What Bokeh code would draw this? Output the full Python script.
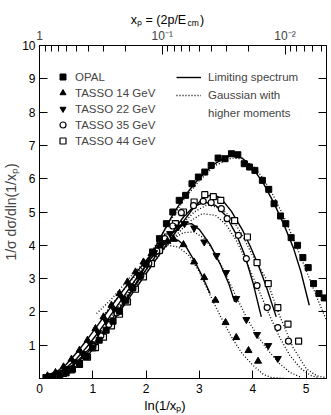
import numpy as np
from bokeh.plotting import figure
from bokeh.models import (LinearAxis, FixedTicker, Range1d, Label, Legend, LegendItem,
                          CustomLabelingPolicy)
from bokeh.embed import file_html
from bokeh.resources import INLINE

# ---------------- data ----------------
# OPAL (91 GeV), filled squares
opal_x = [0.12, 0.25, 0.38, 0.50, 0.62, 0.75, 0.88, 1.00, 1.12, 1.25, 1.38, 1.50, 1.62, 1.75, 1.88,
          2.00, 2.12, 2.25, 2.38, 2.50, 2.62, 2.74, 2.86, 2.98, 3.10, 3.22, 3.35, 3.48, 3.60, 3.72,
          3.84, 3.94, 4.04, 4.18, 4.30, 4.40, 4.52, 4.62, 4.72, 4.84, 4.94, 5.04, 5.14, 5.24, 5.34]
opal_y = [0.03, 0.06, 0.10, 0.17, 0.28, 0.45, 0.66, 0.92, 1.15, 1.45, 1.72, 2.02, 2.35, 2.72, 3.10,
          3.45, 3.80, 4.20, 4.65, 5.00, 5.35, 5.50, 5.85, 6.05, 6.20, 6.40, 6.62, 6.60, 6.75, 6.72,
          6.45, 6.35, 6.25, 5.95, 5.68, 5.25, 4.88, 4.65, 4.23, 4.00, 3.63, 3.33, 2.85, 2.55, 2.42]
# TASSO 14 GeV, filled triangles
t14_x = [0.15, 0.30, 0.45, 0.60, 0.75, 0.90, 1.05, 1.20, 1.35, 1.50, 1.65, 1.80, 1.95, 2.10, 2.25,
         2.40, 2.52, 2.70, 2.90, 3.09, 3.30, 3.49, 3.69, 3.92, 4.10]
t14_y = [0.08, 0.18, 0.35, 0.58, 0.85, 1.15, 1.50, 1.85, 2.20, 2.55, 2.90, 3.20, 3.50, 3.75, 3.98,
         4.12, 4.18, 4.02, 3.50, 3.03, 2.35, 1.68, 1.23, 0.84, 0.52]
# TASSO 22 GeV, filled inverted triangles
t22_x = [0.20, 0.35, 0.50, 0.65, 0.80, 0.95, 1.10, 1.25, 1.40, 1.55, 1.70, 1.85, 2.00, 2.15, 2.30,
         2.45, 2.60, 2.72, 2.90, 3.09, 3.32, 3.50, 3.69, 3.88, 4.08, 4.29, 4.47]
t22_y = [0.08, 0.16, 0.30, 0.50, 0.75, 1.05, 1.38, 1.72, 2.07, 2.42, 2.78, 3.12, 3.45, 3.78, 4.08,
         4.35, 4.55, 4.65, 4.52, 4.10, 3.69, 3.18, 2.40, 1.77, 1.32, 0.99, 0.60]
# TASSO 35 GeV, open circles
t35_x = [0.25, 0.40, 0.55, 0.70, 0.85, 1.00, 1.15, 1.30, 1.45, 1.60, 1.75, 1.90, 2.05, 2.20, 2.35,
         2.50, 2.66, 2.89, 3.07, 3.22, 3.41, 3.52, 3.73, 3.88, 4.08, 4.27, 4.47, 4.67]
t35_y = [0.07, 0.14, 0.26, 0.43, 0.67, 0.97, 1.28, 1.62, 1.97, 2.35, 2.72, 3.08, 3.45, 3.83, 4.20,
         4.58, 4.98, 5.19, 5.32, 5.28, 5.10, 4.80, 4.30, 3.60, 2.79, 2.13, 1.53, 1.12]
# TASSO 44 GeV, open squares
t44_x = [0.30, 0.45, 0.60, 0.75, 0.90, 1.05, 1.20, 1.35, 1.50, 1.65, 1.80, 1.95, 2.10, 2.25, 2.40,
         2.55, 2.70, 2.90, 3.10, 3.26, 3.40, 3.66, 3.90, 4.08, 4.29, 4.47, 4.66, 4.86]
t44_y = [0.08, 0.15, 0.26, 0.42, 0.64, 0.93, 1.24, 1.58, 1.93, 2.30, 2.68, 3.05, 3.45, 3.85, 4.25,
         4.65, 5.00, 5.30, 5.52, 5.46, 5.35, 4.74, 4.25, 3.48, 2.85, 2.13, 1.63, 1.12]

# Limiting spectrum (solid curves)
s14_x = [0.10, 0.30, 0.50, 0.70, 0.90, 1.10, 1.30, 1.50, 1.70, 1.90, 2.10, 2.30, 2.45, 2.60, 2.75,
         2.90, 3.05, 3.20]
s14_y = [0.05, 0.18, 0.42, 0.78, 1.18, 1.62, 2.06, 2.50, 2.93, 3.35, 3.74, 4.05, 4.18, 4.15, 3.95,
         3.55, 3.08, 2.55]
s22_x = [0.10, 0.30, 0.50, 0.70, 0.90, 1.10, 1.30, 1.50, 1.70, 1.90, 2.10, 2.30, 2.50, 2.70, 2.85,
         3.00, 3.20, 3.40, 3.55, 3.66]
s22_y = [0.04, 0.14, 0.32, 0.60, 0.97, 1.38, 1.82, 2.28, 2.74, 3.19, 3.62, 4.02, 4.38, 4.62, 4.65,
         4.47, 4.02, 3.40, 2.85, 2.30]
s35_x = [0.10, 0.30, 0.50, 0.70, 0.90, 1.10, 1.30, 1.50, 1.70, 1.90, 2.10, 2.30, 2.50, 2.70, 2.90,
         3.10, 3.30, 3.50, 3.70, 3.85, 4.00, 4.16]
s35_y = [0.03, 0.11, 0.26, 0.50, 0.83, 1.22, 1.65, 2.10, 2.57, 3.04, 3.50, 3.95, 4.40, 4.85, 5.17,
         5.30, 5.20, 4.88, 4.30, 3.70, 2.90, 1.85]
s44_x = [0.10, 0.30, 0.50, 0.70, 0.90, 1.10, 1.30, 1.50, 1.70, 1.90, 2.10, 2.30, 2.50, 2.70, 2.90,
         3.10, 3.25, 3.40, 3.60, 3.80, 3.95, 4.10, 4.25, 4.44]
s44_y = [0.03, 0.10, 0.24, 0.46, 0.77, 1.15, 1.56, 2.00, 2.46, 2.92, 3.38, 3.83, 4.28, 4.72, 5.15,
         5.45, 5.52, 5.42, 5.02, 4.48, 3.98, 3.42, 2.78, 1.85]
sop_x = [0.10, 0.30, 0.50, 0.70, 0.90, 1.10, 1.30, 1.50, 1.70, 1.90, 2.10, 2.30, 2.50, 2.70, 2.90,
         3.10, 3.30, 3.50, 3.65, 3.80, 4.00, 4.20, 4.40, 4.60, 4.76, 4.90, 5.06]
sop_y = [0.02, 0.07, 0.17, 0.37, 0.68, 1.07, 1.52, 2.00, 2.55, 3.12, 3.72, 4.33, 4.92, 5.42, 5.84,
         6.18, 6.46, 6.65, 6.70, 6.62, 6.32, 5.86, 5.26, 4.56, 3.93, 3.22, 2.20]

# Gaussian with higher moments (dotted curves)
d14_x = [1.07, 1.36, 1.73, 2.00, 2.20, 2.42, 2.60, 2.80, 3.00, 3.20, 3.40, 3.60, 3.80, 4.00, 4.20,
         4.35, 4.60]
d14_y = [1.95, 2.40, 3.10, 3.55, 3.85, 4.00, 3.95, 3.70, 3.20, 2.50, 1.85, 1.25, 0.75, 0.40, 0.12,
         0.03, 0.00]
d22_x = [1.20, 1.50, 1.80, 2.10, 2.40, 2.70, 2.90, 3.10, 3.30, 3.50, 3.70, 3.90, 4.10, 4.30, 4.50,
         4.70, 4.90]
d22_y = [1.90, 2.50, 3.10, 3.65, 4.10, 4.38, 4.40, 4.20, 3.75, 3.10, 2.42, 1.78, 1.25, 0.82, 0.45,
         0.18, 0.04]
d35_x = [1.30, 1.60, 1.90, 2.20, 2.50, 2.80, 3.05, 3.30, 3.50, 3.70, 3.90, 4.10, 4.30, 4.50, 4.70,
         4.90, 5.10, 5.25]
d35_y = [1.75, 2.35, 2.95, 3.60, 4.20, 4.70, 4.95, 4.90, 4.62, 4.12, 3.45, 2.70, 1.95, 1.25, 0.68,
         0.30, 0.08, 0.02]
d44_x = [1.40, 1.70, 2.00, 2.30, 2.60, 2.90, 3.15, 3.40, 3.60, 3.80, 4.00, 4.25, 4.50, 4.75, 5.00,
         5.20, 5.38]
d44_y = [2.00, 2.60, 3.25, 3.90, 4.50, 5.00, 5.22, 5.12, 4.82, 4.32, 3.68, 3.00, 1.90, 0.95, 0.30,
         0.08, 0.02]
dop_x = [1.50, 1.80, 2.10, 2.40, 2.70, 3.00, 3.30, 3.60, 3.80, 4.00, 4.20, 4.40, 4.60, 4.80, 5.00,
         5.20, 5.38]
dop_y = [2.10, 2.95, 3.80, 4.60, 5.35, 5.95, 6.40, 6.62, 6.60, 6.40, 6.00, 5.45, 4.80, 4.05, 3.25,
         2.45, 1.75]

# axis ticks
x_ticks = [0, 1, 2, 3, 4, 5]
y_ticks = [1, 2, 3, 4, 5, 6, 7, 8, 9, 10]
xp_major = [1.0, 0.1, 0.01]
xp_major_labels = ["1", "10\u207b\u00b9", "10\u207b\u00b2"]
xp_minor = [0.9, 0.8, 0.7, 0.6, 0.5, 0.4, 0.3, 0.2,
            0.09, 0.08, 0.07, 0.06, 0.05, 0.04, 0.03, 0.02,
            0.009, 0.008, 0.007, 0.006, 0.005]

# ---------------- figure ----------------
FONT = "Liberation Sans"

p = figure(width=331, height=415, x_range=Range1d(0, 5.383), y_range=Range1d(0, 10),
           output_backend="svg", toolbar_location=None,
           min_border_left=38, min_border_right=5, min_border_top=45, min_border_bottom=37)
p.grid.visible = False
p.background_fill_color = "white"
p.border_fill_color = "white"
p.outline_line_color = "black"
p.outline_line_width = 1

xa = p.xaxis[0]
ya = p.yaxis[0]
xa.ticker = FixedTicker(ticks=x_ticks)
ya.ticker = FixedTicker(ticks=y_ticks)
for ax in (xa, ya):
    ax.major_tick_in = 8
    ax.major_tick_out = 0
    ax.minor_tick_in = 0
    ax.minor_tick_out = 0
    ax.axis_line_color = "black"
    ax.major_tick_line_color = "black"
    ax.major_label_text_font = FONT
    ax.major_label_text_font_size = "12px"
    ax.major_label_text_color = "black"
xa.major_label_standoff = 5
ya.major_label_standoff = 4
ya.axis_label = "1/\u03c3 d\u03c3/dln(1/x\u209a)"
ya.axis_label_text_font = FONT
ya.axis_label_text_font_size = "14px"
ya.axis_label_text_font_style = "normal"
ya.axis_label_standoff = 0

top_ticks = [float(v) for v in np.log(1.0 / np.array(xp_major))]
top_minor = [float(v) for v in np.log(1.0 / np.array(xp_minor))]
top = LinearAxis(ticker=FixedTicker(ticks=top_ticks, minor_ticks=top_minor),
                 major_label_overrides={t: l for t, l in zip(top_ticks, xp_major_labels)},
                 major_tick_in=9, major_tick_out=0, minor_tick_in=6, minor_tick_out=0,
                 major_label_standoff=3, major_label_text_font=FONT,
                 major_label_text_font_size="12px", axis_line_color="black")
p.add_layout(top, "above")

no_labels = CustomLabelingPolicy(code="for (const i of indices) { indices.unset(i) }\nreturn indices")
right = LinearAxis(ticker=FixedTicker(ticks=y_ticks[:-1]), major_tick_in=8, major_tick_out=0,
                   minor_tick_in=0, minor_tick_out=0, major_label_text_font_size="1px",
                   major_label_policy=no_labels, major_label_standoff=0, axis_line_color="black")
p.add_layout(right, "right")

# curves
LW = 1.4
for xs, ys in ((s14_x, s14_y), (s22_x, s22_y), (s35_x, s35_y), (s44_x, s44_y)):
    p.line(xs, ys, line_color="black", line_width=LW)
r_solid = p.line(sop_x, sop_y, line_color="black", line_width=LW)
for xs, ys in ((d14_x, d14_y), (d22_x, d22_y), (d35_x, d35_y), (d44_x, d44_y)):
    p.line(xs, ys, line_color="black", line_width=1.3, line_dash="1 2")
r_dot = p.line(dop_x, dop_y, line_color="black", line_width=1.3, line_dash="1 2")
# no-glyph entry used for the second line of the dotted-curve legend text
r_blank = p.line(x=[], y=[], line_alpha=0)

# data points
r44 = p.scatter(t44_x, t44_y, marker="square", size=6, line_color="black", fill_color="white", line_width=1.2)
r35 = p.scatter(t35_x, t35_y, marker="circle", size=6, line_color="black", fill_color="white", line_width=1.2)
r22 = p.scatter(t22_x, t22_y, marker="inverted_triangle", size=7, line_color="black", fill_color="black")
r14 = p.scatter(t14_x, t14_y, marker="triangle", size=7, line_color="black", fill_color="black")
rop = p.scatter(opal_x, opal_y, marker="square", size=6, line_color="black", fill_color="black")

LEG_FS = "11.5px"
leg1 = Legend(items=[LegendItem(label="OPAL", renderers=[rop]),
                     LegendItem(label="TASSO 14 GeV", renderers=[r14]),
                     LegendItem(label="TASSO 22 GeV", renderers=[r22]),
                     LegendItem(label="TASSO 35 GeV", renderers=[r35]),
                     LegendItem(label="TASSO 44 GeV", renderers=[r44])],
              location=(16, 230), glyph_width=15, glyph_height=15, label_height=15,
              spacing=1, padding=0, margin=0, label_standoff=5,
              label_text_font=FONT, label_text_font_size=LEG_FS,
              background_fill_alpha=0, border_line_alpha=0)
p.add_layout(leg1)

leg2 = Legend(items=[LegendItem(label="Limiting spectrum", renderers=[r_solid]),
                     LegendItem(label="Gaussian with", renderers=[r_dot]),
                     LegendItem(label="higher moments", renderers=[r_blank])],
              location=(137, 256), glyph_width=25, glyph_height=18, label_height=17,
              spacing=0, padding=0, margin=0, label_standoff=7,
              label_text_font=FONT, label_text_font_size=LEG_FS,
              background_fill_alpha=0, border_line_alpha=0)
p.add_layout(leg2)

# titles outside the frame, placed in the side panels (data coordinates)
# no-break spaces keep room for the "cm" subscript (plain spaces collapse in SVG)
NBSP = "\u00a0"
p.add_layout(Label(x=2.776, y=10.69, text="cm", text_font=FONT, text_font_size="8.5px",
                   text_baseline="alphabetic", text_color="black"), "above")
p.add_layout(Label(x=3.09, y=10.78, text="x\u209a = (2p/E" + NBSP * 4 + ")", text_font=FONT,
                   text_font_size="12.5px", text_align="right",
                   text_baseline="alphabetic", text_color="black"), "above")
p.add_layout(Label(x=1.97, y=-0.81, text="ln(1/x\u209a)", text_font=FONT, text_font_size="13px",
                   text_baseline="middle", text_color="black"), "below")

open("out.html", "w").write(file_html(p, INLINE))
